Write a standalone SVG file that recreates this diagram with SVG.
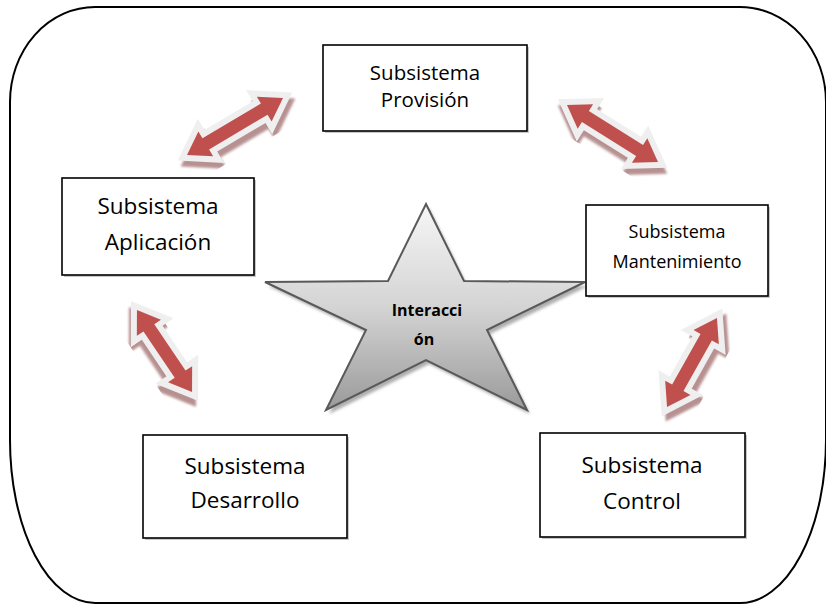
<svg xmlns="http://www.w3.org/2000/svg" width="826" height="604" viewBox="0 0 826 604">
<defs>
<linearGradient id="starGrad" x1="0" y1="0" x2="0" y2="1">
<stop offset="0" stop-color="#f6f6f6"/>
<stop offset="0.5" stop-color="#d4d4d4"/>
<stop offset="1" stop-color="#9a9a9a"/>
</linearGradient>
<filter id="blur" x="-20%" y="-20%" width="140%" height="140%"><feGaussianBlur stdDeviation="1.2"/></filter>
<filter id="blur2" x="-20%" y="-20%" width="140%" height="140%"><feGaussianBlur stdDeviation="1.5"/></filter>
</defs>
<style>
.box{fill:#ffffff;stroke:#000000;stroke-width:1.6}
.bshadow{fill:#c8c8c8}
.t{font-family:"Open Sans","Noto Sans",sans-serif;fill:#000000;text-anchor:middle}
.star{fill:url(#starGrad);stroke:#595959;stroke-width:2;stroke-linejoin:miter}
.sshadow{fill:#8c8c8c;opacity:0.7}
.ashadow{fill:#b08686;stroke:#b08686;stroke-width:12;stroke-linejoin:miter;opacity:0.9}
.aout{fill:#efefef;stroke:#efefef;stroke-width:12;stroke-linejoin:miter}
.ared{fill:#c0504d}
</style>
<rect width="826" height="604" fill="#ffffff"/>
<path id="frame" d="M 95 7 H 740 A 86 95 0 0 1 826 102 V 440 A 86 163 0 0 1 740 603 H 95 A 85 163 0 0 1 10 440 V 102 A 85 95 0 0 1 95 7 Z" fill="none" stroke="#000000" stroke-width="2"/>

<g id="connectors">
  <g id="arrow-aplicacion-provision" transform="translate(235 126.5) rotate(-30.7)">
    <polygon class="ashadow" filter="url(#blur)" transform="rotate(30.7) translate(3 6) rotate(-30.7)" points="55.8,0 34,14.5 34,6.5 -34,6.5 -34,14.5 -55.8,0 -34,-14.5 -34,-6.5 34,-6.5 34,-14.5"/>
    <polygon class="aout" points="55.8,0 34,14.5 34,6.5 -34,6.5 -34,14.5 -55.8,0 -34,-14.5 -34,-6.5 34,-6.5 34,-14.5"/>
    <polygon class="ared" points="55.8,0 34,14.5 34,6.5 -34,6.5 -34,14.5 -55.8,0 -34,-14.5 -34,-6.5 34,-6.5 34,-14.5"/>
  </g>
  <g id="arrow-provision-mantenimiento" transform="translate(612.5 133.5) rotate(32.1)">
    <polygon class="ashadow" filter="url(#blur)" transform="rotate(-32.1) translate(0 6) rotate(32.1)" points="53.7,0 32,14.5 32,6.5 -32,6.5 -32,14.5 -53.7,0 -32,-14.5 -32,-6.5 32,-6.5 32,-14.5"/>
    <polygon class="aout" points="53.7,0 32,14.5 32,6.5 -32,6.5 -32,14.5 -53.7,0 -32,-14.5 -32,-6.5 32,-6.5 32,-14.5"/>
    <polygon class="ared" points="53.7,0 32,14.5 32,6.5 -32,6.5 -32,14.5 -53.7,0 -32,-14.5 -32,-6.5 32,-6.5 32,-14.5"/>
  </g>
  <g id="arrow-aplicacion-desarrollo" transform="translate(164.5 351) rotate(56.1)">
    <polygon class="ashadow" filter="url(#blur)" transform="rotate(-56.1) translate(-2 6) rotate(56.1)" points="49.4,0 28,14.5 28,6.5 -28,6.5 -28,14.5 -49.4,0 -28,-14.5 -28,-6.5 28,-6.5 28,-14.5"/>
    <polygon class="aout" points="49.4,0 28,14.5 28,6.5 -28,6.5 -28,14.5 -49.4,0 -28,-14.5 -28,-6.5 28,-6.5 28,-14.5"/>
    <polygon class="ared" points="49.4,0 28,14.5 28,6.5 -28,6.5 -28,14.5 -49.4,0 -28,-14.5 -28,-6.5 28,-6.5 28,-14.5"/>
  </g>
  <g id="arrow-mantenimiento-control" transform="translate(692 362.5) rotate(-60.7)">
    <polygon class="ashadow" filter="url(#blur)" transform="rotate(60.7) translate(4 5) rotate(-60.7)" points="51,0 29,14.5 29,6.5 -29,6.5 -29,14.5 -51,0 -29,-14.5 -29,-6.5 29,-6.5 29,-14.5"/>
    <polygon class="aout" points="51,0 29,14.5 29,6.5 -29,6.5 -29,14.5 -51,0 -29,-14.5 -29,-6.5 29,-6.5 29,-14.5"/>
    <polygon class="ared" points="51,0 29,14.5 29,6.5 -29,6.5 -29,14.5 -51,0 -29,-14.5 -29,-6.5 29,-6.5 29,-14.5"/>
  </g>
</g>

<g id="interaccion">
  <polygon class="sshadow" filter="url(#blur2)" transform="translate(3 4)" points="426,204 464,281 585,282 487,330 527,410 426,360 326,410 366,330 265,282 388,281"/>
  <polygon class="star" points="426,204 464,281 585,282 487,330 527,410 426,360 326,410 366,330 265,282 388,281"/>
  <text class="t" x="427" y="316" font-size="16" font-weight="bold">Interacci</text>
  <text class="t" x="424" y="345" font-size="16" font-weight="bold">ón</text>
</g>

<g id="provision">
  <rect class="bshadow" x="325" y="47" width="204" height="86"/>
  <rect class="box" x="323" y="45" width="204" height="86"/>
  <text class="t" x="425" y="80" font-size="20.5">Subsistema</text>
  <text class="t" x="425" y="107" font-size="20.5">Provisión</text>
</g>

<g id="aplicacion">
  <rect class="bshadow" x="64" y="180" width="192" height="97"/>
  <rect class="box" x="62" y="178" width="192" height="97"/>
  <text class="t" x="158" y="214" font-size="22.5">Subsistema</text>
  <text class="t" x="158" y="250" font-size="22.5">Aplicación</text>
</g>

<g id="mantenimiento">
  <rect class="bshadow" x="588" y="207" width="182" height="91"/>
  <rect class="box" x="586" y="205" width="182" height="91"/>
  <text class="t" x="677" y="238" font-size="18">Subsistema</text>
  <text class="t" x="677" y="268" font-size="18">Mantenimiento</text>
</g>

<g id="desarrollo">
  <rect class="bshadow" x="145" y="437" width="204" height="103"/>
  <rect class="box" x="143" y="435" width="204" height="103"/>
  <text class="t" x="245" y="474" font-size="22.5">Subsistema</text>
  <text class="t" x="245" y="508" font-size="22.5">Desarrollo</text>
</g>

<g id="control">
  <rect class="bshadow" x="542" y="435" width="205" height="104"/>
  <rect class="box" x="540" y="433" width="205" height="104"/>
  <text class="t" x="642" y="473" font-size="22.5">Subsistema</text>
  <text class="t" x="642" y="509" font-size="22.5">Control</text>
</g>
</svg>
